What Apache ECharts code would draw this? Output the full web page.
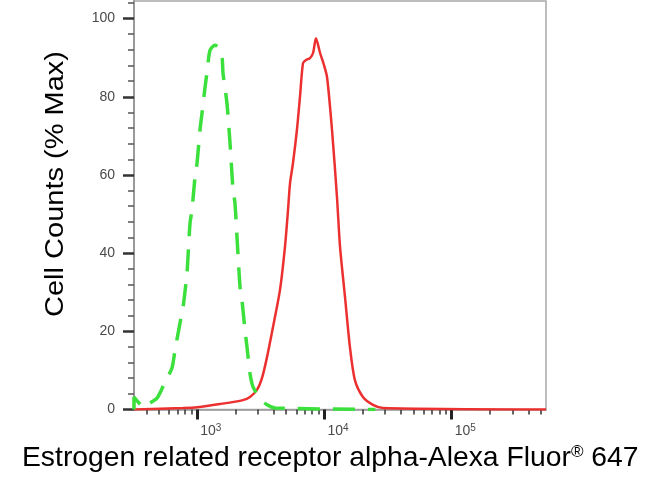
<!DOCTYPE html>
<html>
<head>
<meta charset="utf-8">
<script src="https://cdn.jsdelivr.net/npm/echarts@6/dist/echarts.min.js"></script>
<style>html,body{margin:0;padding:0;background:#fff}#c{width:650px;height:483px}</style>
</head>
<body>
<div id="c"></div>
<script>
// Fluorescence intensity (linear units, shown on log axis) and % of max
var greenX = [318, 318, 385, 403, 482, 557, 632, 668, 731, 773, 830, 845, 877, 908, 959, 995, 1050, 1089, 1151, 1191, 1259, 1377, 1456, 1563, 1592, 1710, 1807, 1910, 1977, 2051, 2168, 2244, 2371, 2460, 2594, 2742, 3112, 3532, 4083, 25100];
var greenY = [0, 3.2, 0.5, 1.2, 2.9, 7.0, 10.6, 15.2, 22.1, 26.2, 34.9, 39.0, 47.7, 51.0, 59.4, 63.0, 71.5, 75.8, 82.5, 86.1, 91.9, 93.2, 92.7, 90.2, 86.1, 78.4, 68.2, 56.2, 52.8, 44.1, 31.3, 28.0, 20.3, 15.9, 9.3, 5.8, 2.9, 1.2, 0.4, 0];
var redX = [318, 773, 1000, 1507, 2286, 2594, 2944, 3228, 3532, 3936, 4467, 4887, 5164, 5358, 5649, 6067, 6412, 6776, 7161, 7691, 8128, 8570, 9226, 9908, 10471, 11455, 12531, 13243, 14488, 15849, 17338, 20045, 24044, 28840, 550800];
var redY = [0, 0.4, 0.6, 1.4, 2.4, 3.2, 5.0, 8.1, 13.4, 21.1, 30.6, 41.6, 51.0, 57.9, 63.0, 71.5, 79.9, 88.6, 89.4, 89.9, 91.2, 95.0, 91.2, 88.1, 85.0, 71.5, 54.3, 41.6, 28.8, 15.9, 7.5, 3.2, 1.2, 0.4, 0];
var xMajorTicks = [1000, 10000, 100000];
var xMinorTicks = [400, 500, 600, 700, 800, 900, 2000, 3000, 4000, 5000, 6000, 7000, 8000, 9000, 20000, 30000, 40000, 50000, 60000, 70000, 80000, 90000, 200000, 300000, 400000, 500000];
var yMajorTicks = [0, 20, 40, 60, 80, 100];
var yMinorTicks = [4, 8, 12, 16, 24, 28, 32, 36, 44, 48, 52, 56, 64, 68, 72, 76, 84, 88, 92, 96, 104];
var xRange = [318, 550800];
var yRange = [0, 104.5];
var xTitle = 'Estrogen related receptor alpha-Alexa Fluor{r|®} 647';
var yTitle = 'Cell Counts (% Max)';

function zip(a, b) { return a.map(function (v, i) { return [v, b[i]]; }); }
var FONT = '"Liberation Sans", Arial, Helvetica, sans-serif';

var chart = echarts.init(document.getElementById('c'), null, { renderer: 'canvas' });
chart.setOption({
  animation: false,
  backgroundColor: '#fff',
  grid: { left: 134, top: 1, width: 412, height: 408.5, show: true, borderColor: '#a8a8a8', borderWidth: 1.5, backgroundColor: 'transparent' },
  xAxis: [
    {
      type: 'log', min: xRange[0], max: xRange[1], position: 'bottom',
      axisLine: { show: true, lineStyle: { color: '#999', width: 1.5 } },
      axisTick: { show: true, customValues: xMinorTicks, length: 5, lineStyle: { color: '#333', width: 1.5 } },
      axisLabel: { show: false },
      splitLine: { show: false }, minorTick: { show: false }
    },
    {
      type: 'log', min: xRange[0], max: xRange[1], position: 'bottom', offset: 0,
      axisLine: { show: false },
      axisTick: { show: true, customValues: xMajorTicks, length: 10, lineStyle: { color: '#222', width: 3 } },
      axisLabel: {
        show: true, customValues: xMajorTicks, margin: 14, align: 'left', padding: [0, 0, 0, 3],
        formatter: function (v) { return '{b|10}{s|' + Math.round(Math.log10(v)) + '}'; },
        rich: {
          b: { fontSize: 14, fontFamily: FONT, color: '#4a4a4a', lineHeight: 15, padding: [7, 0, 0, 0], verticalAlign: 'bottom' },
          s: { fontSize: 10, fontFamily: FONT, color: '#4a4a4a', lineHeight: 10, verticalAlign: 'top' }
        }
      },
      splitLine: { show: false }
    }
  ],
  yAxis: [
    {
      type: 'value', min: yRange[0], max: yRange[1], position: 'left',
      axisLine: { show: true, lineStyle: { color: '#999', width: 2 } },
      axisTick: { show: true, customValues: yMajorTicks, length: 11, lineStyle: { color: '#333', width: 2.5 } },
      axisLabel: { show: true, customValues: yMajorTicks, margin: 19, fontSize: 14, fontFamily: FONT, color: '#4a4a4a' },
      splitLine: { show: false }
    },
    {
      type: 'value', min: yRange[0], max: yRange[1], position: 'left', offset: 0,
      axisLine: { show: false },
      axisTick: { show: true, customValues: yMinorTicks, length: 6, lineStyle: { color: '#555', width: 1.5 } },
      axisLabel: { show: false },
      splitLine: { show: false }
    }
  ],
  series: [
    {
      type: 'line', name: 'Sample', data: zip(redX, redY), xAxisIndex: 0, yAxisIndex: 0,
      showSymbol: false, smooth: 0.25, z: 3,
      lineStyle: { color: '#ec2f2f', width: 2.5 }
    },
    {
      type: 'line', name: 'Control', data: zip(greenX, greenY), xAxisIndex: 0, yAxisIndex: 0,
      showSymbol: false, smooth: 0.25, z: 4,
      lineStyle: { color: '#3ce03c', width: 3.5, type: [22, 13] }
    }
  ],
  graphic: [
    {
      type: 'text', x: 56, y: 184, rotation: Math.PI / 2, scaleX: 1.16, scaleY: 1,
      style: { text: yTitle, fontSize: 25, fontFamily: FONT, fill: '#000', align: 'center', verticalAlign: 'middle' }
    },
    {
      type: 'text', x: 22, y: 458,
      style: {
        text: xTitle, fontSize: 28.3, fontFamily: FONT, fill: '#000', align: 'left', verticalAlign: 'middle',
        rich: { r: { fontSize: 17, fontFamily: FONT, fill: '#000', verticalAlign: 'top', lineHeight: 17 } }
      }
    }
  ]
});
</script>
</body>
</html>
